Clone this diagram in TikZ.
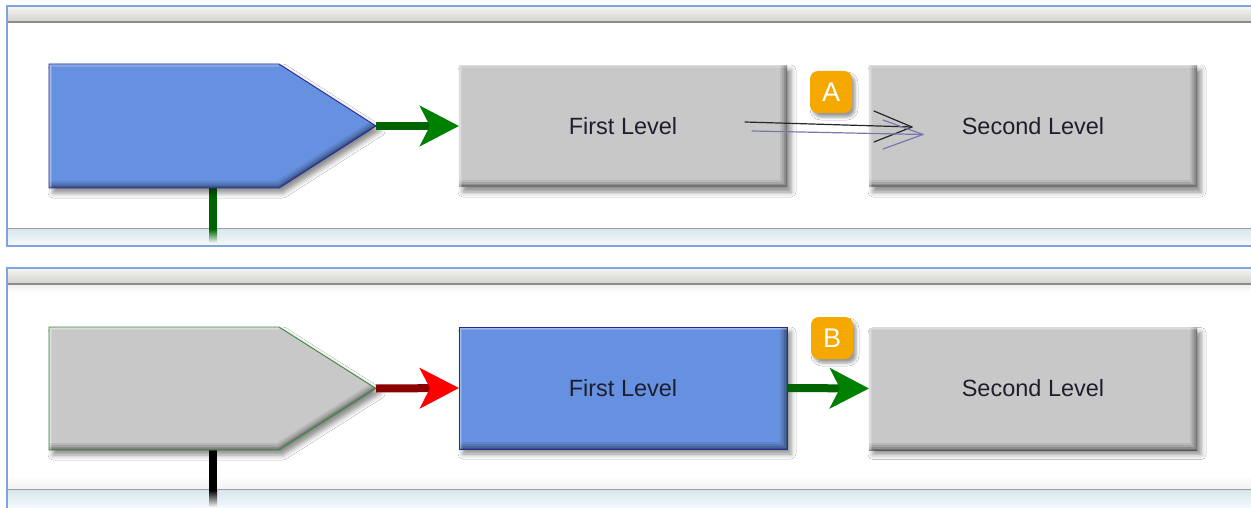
\documentclass[tikz,border=0pt]{standalone}
\usepackage{fontspec}
\setmainfont{Liberation Sans}
\usetikzlibrary{arrows.meta,shadows.blur}

\definecolor{boxgray}{RGB}{200,200,200}
\definecolor{boxblue}{RGB}{102,145,224}
\definecolor{edgeblue}{RGB}{40,40,150}
\definecolor{edgegreen}{RGB}{60,140,60}
\definecolor{linkgreen}{RGB}{0,100,0}
\definecolor{headgreen}{RGB}{0,128,0}
\definecolor{linkred}{RGB}{139,0,0}
\definecolor{headred}{RGB}{255,0,0}
\definecolor{badgeorange}{RGB}{245,168,0}
\definecolor{frameblue}{RGB}{125,165,220}
\definecolor{barTop}{RGB}{245,245,241}
\definecolor{barBot}{RGB}{214,214,208}
\definecolor{barLine}{RGB}{140,140,140}
\definecolor{stripTop}{RGB}{216,231,238}
\definecolor{stripBot}{RGB}{245,249,251}
\definecolor{textdark}{RGB}{30,30,45}
\definecolor{sketchpurple}{RGB}{120,120,170}

% inner bevel: dark band along #2, light band along #3, both clipped to #1
\newcommand\bevelshape[3]{%
  \begin{scope}
    \clip #1;
    \foreach \w/\o in {14/0.08,10/0.10,6/0.14,3/0.18} {\draw[black,opacity=\o,line width=\w pt,line join=miter] #2;}
    \foreach \w/\o in {6/0.18,3/0.25} {\draw[white,opacity=\o,line width=\w pt,line join=miter] #3;}
  \end{scope}}

\tikzset{
  softshadow/.style={blur shadow={shadow xshift=4pt, shadow yshift=-5pt,
      shadow blur radius=5pt, shadow opacity=45}},
  levelbox/.style={rectangle, minimum width=328pt, minimum height=122pt,
      inner sep=0pt, outer sep=0pt, text=textdark,
      font=\fontsize{23.5}{28}\selectfont, softshadow},
  badgebox/.style={rectangle, rounded corners=8pt, fill=badgeorange,
      minimum width=42pt, minimum height=42pt, inner sep=0pt, text=white,
      font=\fontsize{27}{30}\selectfont,
      blur shadow={shadow xshift=3pt, shadow yshift=-4pt,
      shadow blur radius=3pt, shadow opacity=40}},
  link/.style={line width=8pt},
  bigtip/.style={-{Stealth[length=39pt,width=40pt,inset=10pt,color=#1]}},
  sketch/.style={line width=1.2pt, line cap=round, line join=round},
}

\begin{document}
\begin{tikzpicture}[x=1pt,y=-1pt]
\useasboundingbox (0,0) rectangle (1251,508);
\fill[white] (0,0) rectangle (1251,508);

% ---------- upper panel ----------
\shade[top color=barTop, bottom color=barBot] (7,6) rectangle (1251,21);
\fill[barLine] (7,21) rectangle (1251,23);
\fill[gray!75] (7,227.5) rectangle (1251,229);
\shade[top color=stripTop, bottom color=stripBot] (7,229) rectangle (1251,245);
\draw[frameblue, line width=1.6pt] (1251,6) -- (7,6) -- (7,246) -- (1251,246);

% ---------- lower panel ----------
\shade[top color=barTop, bottom color=barBot] (7,268) rectangle (1251,283);
\fill[barLine] (7,283) rectangle (1251,285);
\shade[top color=gray!12, bottom color=white] (7,285) rectangle (1251,292);
\shade[top color=white, bottom color=gray!10] (7,476) rectangle (1251,489);
\fill[gray!75] (7,489) rectangle (1251,490.5);
\shade[top color=stripTop, bottom color=stripBot] (7,490.5) rectangle (1251,508);
\draw[frameblue, line width=1.6pt] (1251,268) -- (7,268) -- (7,508);

% ---------- upper row ----------
\coordinate (p1tip) at (376,126);
\coordinate (p1foot) at (213,188);
\coordinate (p1drop) at (213,229);
\draw[linkgreen, line width=8pt] (p1foot) -- (p1drop);
\shade[top color=linkgreen, bottom color=stripBot] (209,229) rectangle (217,243);

\fill[boxblue, softshadow] (49,64) -- (279,64) -- (p1tip) -- (279,188) -- (49,188) -- cycle;
\bevelshape{(49,64) -- (279,64) -- (376,126) -- (279,188) -- (49,188) -- cycle}
  {(49,188) -- (279,188) -- (376,126)}{(49,188) -- (49,64) -- (279,64)}
\draw[edgeblue, line width=0.9pt] (49,64) -- (279,64) -- (p1tip) -- (279,188) -- (49,188) -- cycle;

\node[levelbox, fill=boxgray] (f1) at (623,126) {First Level};
\node[levelbox, fill=boxgray] (s1) at (1033,126) {Second Level};
\bevelshape{(459,65) rectangle (787,187)}{(459,187) -- (787,187) -- (787,65)}{(459,187) -- (459,65) -- (787,65)}
\bevelshape{(869,65) rectangle (1197,187)}{(869,187) -- (1197,187) -- (1197,65)}{(869,187) -- (869,65) -- (1197,65)}

\draw[link, linkgreen, bigtip=headgreen] (p1tip) -- (f1.west);

\node[badgebox] (ba) at (831,92) {A};

% hand-drawn double stroke from First Level to Second Level
\coordinate (ka) at (745,122);
\coordinate (kb) at (912,127);
\coordinate (kc) at (752,131);
\coordinate (kd) at (923,134.5);
\draw[sketch, black!85] (ka) -- (kb);
\draw[sketch, black!85] (874,111) -- (kb) -- (874,142);
\draw[sketch, sketchpurple] (kc) -- (kd);
\draw[sketch, sketchpurple] (883,120) -- (kd) -- (883,149);

% ---------- lower row ----------
\coordinate (p2tip) at (376,388.5);
\coordinate (p2foot) at (213,450);
\coordinate (p2drop) at (213,490);
\draw[black, line width=8pt] (p2foot) -- (p2drop);
\shade[top color=black, bottom color=stripBot] (209,490) rectangle (217,507);

\fill[boxgray, softshadow] (49,327) -- (279,327) -- (p2tip) -- (279,450) -- (49,450) -- cycle;
\bevelshape{(49,327) -- (279,327) -- (376,388.5) -- (279,450) -- (49,450) -- cycle}
  {(49,450) -- (279,450) -- (376,388.5)}{(49,450) -- (49,327) -- (279,327)}
\draw[edgegreen, line width=0.9pt] (49,327) -- (279,327) -- (p2tip) -- (279,450) -- (49,450) -- cycle;

\node[levelbox, fill=boxblue] (f2) at (623,388) {First Level};
\node[levelbox, fill=boxgray] (s2) at (1033,388.5) {Second Level};
\bevelshape{(459,327) rectangle (787,449)}{(459,449) -- (787,449) -- (787,327)}{(459,449) -- (459,327) -- (787,327)}
\bevelshape{(869,327) rectangle (1197,450)}{(869,450) -- (1197,450) -- (1197,327)}{(869,450) -- (869,327) -- (1197,327)}
\draw[edgeblue, line width=0.9pt] (f2.north west) rectangle (f2.south east);

\draw[link, linkred, bigtip=headred] (p2tip) -- (f2.west);
\draw[link, linkgreen, bigtip=headgreen] (f2.east) -- (s2.west);

\node[badgebox] (bb) at (832,338) {B};
\end{tikzpicture}
\end{document}
